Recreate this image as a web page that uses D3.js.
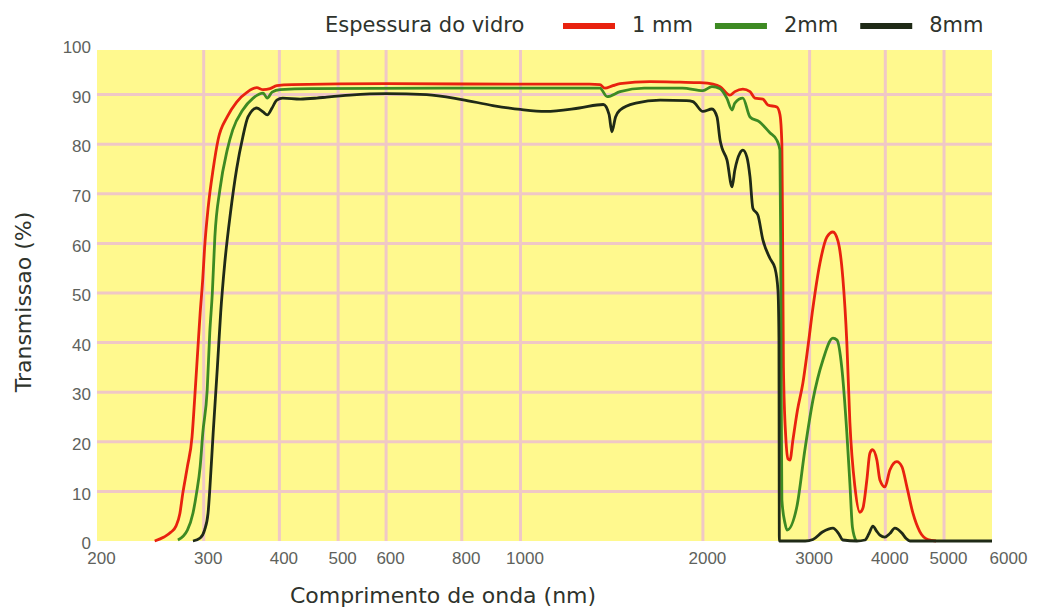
<!DOCTYPE html>
<html>
<head>
<meta charset="utf-8">
<script src="https://cdn.jsdelivr.net/npm/d3@7"></script>
<style>
  body { margin: 0; background: #fff; }
  svg { display: block; font-family: "DejaVu Sans", Verdana, sans-serif; }
</style>
</head>
<body>
<div id="chart"></div>
<script>
// --- Datos (leídos do gráfico) ---
const xTicks = [200, 300, 400, 500, 600, 800, 1000, 2000, 3000, 4000, 5000, 6000];
const xGrid = [300, 400, 500, 600, 800, 1000, 2000, 3000, 4000, 5000];
const yTicks = [0, 10, 20, 30, 40, 50, 60, 70, 80, 90, 100];
const yGrid = [10, 20, 30, 40, 50, 60, 70, 80, 90];

const legendTitle = "Espessura do vidro";
const seriesNames = ["1 mm", "2mm", "8mm"];
const seriesColors = ["#e8220f", "#3d8a23", "#1f2a17"];

// [comprimento de onda (nm), transmissão (%)]
const vidro1mm = [
  [249, 0], [258, 0.8], [265, 1.8], [270, 3], [274, 5.5], [277, 9.5], [282, 15], [287, 21],
  [290, 29], [293.5, 39], [296, 46], [299, 53], [301, 59], [305, 67], [311, 75], [317, 81], [328, 85.5],
  [340, 88.5], [354, 90.5], [367, 91.4], [376, 91], [386, 91.2], [396, 91.8], [420, 92],
  [600, 92.2], [1000, 92.1], [1300, 92.1], [1352, 92], [1378, 91.3], [1420, 91.8], [1460, 92.2],
  [1635, 92.6], [1833, 92.5], [1977, 92.4], [2078, 92.1], [2135, 91.6], [2216, 89.9], [2258, 90.6],
  [2328, 91.1], [2392, 90.6], [2437, 89.3], [2512, 89.1], [2560, 87.9], [2649, 87.5], [2680, 86],
  [2700, 80], [2708, 60], [2716, 35], [2740, 21], [2765, 16.5], [2784, 16.3], [2816, 20.4],
  [2865, 26.4], [2924, 31.8], [2980, 39], [3038, 47], [3120, 56], [3204, 61.3], [3278, 62.3],
  [3341, 60.5], [3404, 53], [3456, 40], [3496, 24], [3563, 11], [3631, 5.8], [3673, 6.6],
  [3729, 12.3], [3772, 17.7], [3810, 18.4], [3874, 16.3], [3919, 12.3], [3994, 10.9], [4070, 14.3],
  [4178, 16], [4260, 15], [4342, 10.9], [4443, 5.6], [4560, 1.9], [4702, 0.3], [4850, 0]
];

const vidro2mm = [
  [272, 0.2], [282, 2.2], [288, 5.6], [292, 9.7], [296, 15], [299, 21.8], [304, 30.4], [307, 42],
  [310, 50], [313, 61.3], [319, 70.8], [328, 78.8], [335, 82.9], [348, 86.9], [362, 89.3],
  [376, 90.3], [382, 89.3], [389, 90.5], [401, 91], [450, 91.2], [1000, 91.3], [1352, 91.3],
  [1390, 89.6], [1460, 90.6], [1600, 91.3], [1850, 91.3], [2000, 90.8], [2070, 91.6], [2135, 91.2],
  [2190, 89.3], [2234, 86.9], [2258, 88.3], [2328, 89.3], [2392, 85.5], [2480, 84.5], [2580, 82.3],
  [2649, 80.8], [2680, 78.8], [2688, 60], [2693, 30], [2700, 8.3], [2732, 3.6], [2753, 2.2],
  [2858, 6.9], [2946, 18.3], [3038, 28.4], [3156, 36.5], [3278, 40.9], [3330, 40.5], [3390, 35],
  [3456, 21.8], [3496, 11.7], [3530, 2.8], [3580, 0]
];

const vidro8mm = [
  [288, 0], [296, 0.6], [301, 2.2], [305, 5.6], [307, 10.3], [311, 21.8], [316, 35], [320, 46],
  [325, 56], [332, 66], [340, 75], [348, 81.4], [355, 85.5], [367, 87.3], [376, 86.5], [382, 85.9],
  [389, 87.3], [396, 88.9], [405, 89.3], [433, 89.1], [461, 89.3], [479, 89.5], [523, 89.9],
  [600, 90.2], [700, 90], [800, 89], [900, 87.8], [1000, 87], [1100, 86.6], [1250, 87.3],
  [1370, 88], [1400, 86], [1415, 82.5], [1435, 85.5], [1460, 86.9], [1550, 88.3], [1700, 88.9],
  [1880, 88.8], [1925, 88.6], [2000, 86.6], [2070, 87.1], [2110, 85.5], [2135, 80.8], [2151, 79.2],
  [2192, 76.8], [2234, 71.4], [2258, 74.8], [2302, 78.2], [2328, 78.8], [2364, 77.4], [2392, 73.4],
  [2418, 67.1], [2465, 65.7], [2512, 60.7], [2580, 57], [2630, 55], [2660, 50.6], [2670, 41],
  [2672, 20], [2674, 0], [2950, 0], [3038, 0.3], [3150, 1.8], [3278, 2.6], [3350, 1.5],
  [3404, 0.2], [3590, 0], [3702, 0.2], [3760, 1.5], [3816, 3], [3870, 2], [3919, 1.2],
  [3994, 0.8], [4070, 1.5], [4148, 2.6], [4260, 1.6], [4330, 0.5], [4392, 0], [6000, 0]
];

const seriesData = [vidro1mm, vidro2mm, vidro8mm];

// --- SVG ---
const width = 1037, height = 609;
const plot = { left: 97, right: 992, top: 50, bottom: 541 };

const svg = d3.select("#chart").append("svg")
    .attr("width", width)
    .attr("height", height);

const x = d3.scaleLog().domain([200, 6000]).range([plot.left, plot.right]);
const y = d3.scaleLinear().domain([0, 100]).range([plot.bottom, 45]);

// fundo amarelo
svg.append("rect")
    .attr("x", plot.left)
    .attr("y", plot.top)
    .attr("width", plot.right - plot.left)
    .attr("height", plot.bottom - plot.top)
    .attr("fill", "#fff98e");

// grelha
const grid = svg.append("g").attr("stroke", "#f0c8c6").attr("stroke-width", 3);
grid.selectAll("line.v")
    .data(xGrid)
    .enter().append("line")
    .attr("class", "v")
    .attr("x1", d => x(d)).attr("x2", d => x(d))
    .attr("y1", plot.top).attr("y2", plot.bottom);
grid.selectAll("line.h")
    .data(yGrid)
    .enter().append("line")
    .attr("class", "h")
    .attr("x1", plot.left).attr("x2", plot.right)
    .attr("y1", d => y(d)).attr("y2", d => y(d));

// eixos
const xAxis = svg.append("g")
    .attr("transform", `translate(0,${plot.bottom})`)
    .call(d3.axisBottom(x).tickValues(xTicks).tickFormat(d3.format("d")).tickSize(0).tickPadding(11));
xAxis.select(".domain").remove();
xAxis.selectAll("text")
    .attr("dx", d => d === 6000 ? 16 : 4)
    .style("font-size", "17px")
    .style("fill", "#5e625c");

const yAxis = svg.append("g")
    .attr("transform", `translate(${plot.left},0)`)
    .call(d3.axisLeft(y).tickValues(yTicks).tickSize(0).tickPadding(6));
yAxis.select(".domain").remove();
yAxis.selectAll("text")
    .attr("dy", "0.45em")
    .style("font-size", "17px")
    .style("fill", "#5e625c");

// títulos dos eixos
svg.append("text")
    .attr("x", 443)
    .attr("y", 603)
    .attr("text-anchor", "middle")
    .style("font-size", "22px")
    .style("fill", "#2e332c")
    .text("Comprimento de onda (nm)");

svg.append("text")
    .attr("transform", "translate(31,302) rotate(-90)")
    .attr("text-anchor", "middle")
    .style("font-size", "22px")
    .style("fill", "#2e332c")
    .text("Transmissao (%)");

// curvas
const line = d3.line()
    .x(d => x(d[0]))
    .y(d => y(d[1]))
    .curve(d3.curveMonotoneX);

svg.selectAll("path.serie")
    .data(seriesData)
    .enter().append("path")
    .attr("class", "serie")
    .attr("d", line)
    .attr("fill", "none")
    .attr("stroke", (d, i) => seriesColors[i])
    .attr("stroke-width", 2.8)
    .attr("stroke-linejoin", "round");

// legenda
const legend = svg.append("g").style("font-size", "21px").style("fill", "#2e332c");
legend.append("text")
    .attr("x", 325)
    .attr("y", 32)
    .text(legendTitle);

let lx = 563;
seriesNames.forEach((name, i) => {
    legend.append("rect")
        .attr("x", lx)
        .attr("y", 23)
        .attr("width", 52)
        .attr("height", 6)
        .attr("fill", seriesColors[i]);
    const t = legend.append("text")
        .attr("x", lx + 69)
        .attr("y", 32)
        .text(name);
    lx += 69 + t.node().getComputedTextLength() + 22;
});
</script>
</body>
</html>
